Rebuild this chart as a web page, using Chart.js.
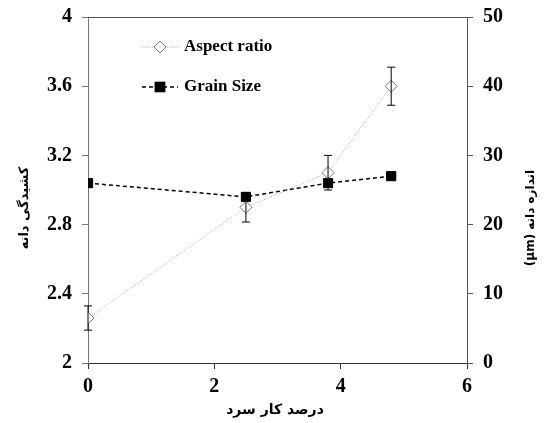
<!DOCTYPE html>
<html>
<head>
<meta charset="utf-8">
<script src="https://cdn.jsdelivr.net/npm/chart.js@4"></script>
<style>
  html, body { margin: 0; padding: 0; background: #fff; }
  #wrap { width: 544px; height: 423px; }
</style>
</head>
<body>
<div id="wrap"><canvas id="grafico" width="544" height="423"></canvas></div>
<script>
// datos
const coldWork = [0, 2.5, 3.8, 4.8];
const aspectRatio = [2.26, 2.90, 3.10, 3.60];
const aspectErr = [0.07, 0.085, 0.10, 0.11];
const grainSize = [26.0, 24.0, 26.0, 27.0];
const grainErr = [0, 0, 0, 0.4];

const xTicks = [0, 2, 4, 6];
const yLeftTicks = [2, 2.4, 2.8, 3.2, 3.6, 4];
const yRightTicks = [0, 10, 20, 30, 40, 50];

const xTitle = 'درصد کار سرد';
const yLeftTitle = 'کشیدگی دانه';
const yRightTitle = 'اندازه دانه (µm)';

const serif = '"Liberation Serif", "Times New Roman", serif';
const arabic = '"DejaVu Sans", sans-serif';

const tickFont = { family: serif, size: 20, weight: 'bold' };

// barras de error
const errorBars = {
  id: 'errorBars',
  afterDatasetsDraw(chart) {
    const ctx = chart.ctx;
    const sx = chart.scales.x;
    const sets = [
      { err: aspectErr, vals: aspectRatio, scale: chart.scales.y },
      { err: grainErr, vals: grainSize, scale: chart.scales.y2 }
    ];
    ctx.save();
    ctx.strokeStyle = '#000';
    ctx.lineWidth = 1;
    sets.forEach(s => {
      s.vals.forEach((v, i) => {
        if (!s.err[i]) return;
        const x = sx.getPixelForValue(coldWork[i]);
        const top = s.scale.getPixelForValue(v + s.err[i]);
        const bot = s.scale.getPixelForValue(v - s.err[i]);
        ctx.beginPath();
        ctx.moveTo(x, top); ctx.lineTo(x, bot);
        ctx.moveTo(x - 4, top); ctx.lineTo(x + 4, top);
        ctx.moveTo(x - 4, bot); ctx.lineTo(x + 4, bot);
        ctx.stroke();
      });
    });
    ctx.restore();
  }
};

// marco, leyenda y titulos
const extras = {
  id: 'extras',
  afterDraw(chart) {
    const ctx = chart.ctx;
    const a = chart.chartArea;
    ctx.save();
    ctx.strokeStyle = '#555';
    ctx.lineWidth = 1;
    ctx.beginPath();
    ctx.moveTo(a.left, a.top + 0.5);
    ctx.lineTo(a.right, a.top + 0.5);
    ctx.stroke();

    // leyenda
    const rows = [
      { y: 47, label: 'Aspect ratio', dash: [1, 1.5], color: '#999', ds: 0 },
      { y: 87, label: 'Grain Size', dash: [4, 3], color: '#000', ds: 1 }
    ];
    rows.forEach(r => {
      ctx.setLineDash(r.dash);
      ctx.strokeStyle = r.color;
      ctx.lineWidth = r.ds ? 1.5 : 1;
      ctx.beginPath();
      ctx.moveTo(142, r.y); ctx.lineTo(178, r.y);
      ctx.stroke();
      ctx.setLineDash([]);
      const d = chart.data.datasets[r.ds];
      Chart.helpers.drawPoint(ctx, {
        pointStyle: d.pointStyle, radius: d.pointRadius,
        borderWidth: d.pointBorderWidth, rotation: 0
      }, 160, r.y);
      ctx.fillStyle = d.pointBackgroundColor;
      ctx.strokeStyle = d.pointBorderColor;
      ctx.lineWidth = d.pointBorderWidth;
      ctx.fill();
      ctx.stroke();
      ctx.fillStyle = '#000';
      ctx.font = 'bold 17px ' + serif;
      ctx.textAlign = 'left';
      ctx.textBaseline = 'middle';
      ctx.fillText(r.label, 184, r.y);
    });

    // titulos de ejes (texto persa, rtl)
    ctx.fillStyle = '#000';
    ctx.direction = 'rtl';
    ctx.font = 'bold 14px ' + arabic;
    ctx.textAlign = 'center';
    ctx.textBaseline = 'middle';
    ctx.fillText(xTitle, 275, 410);

    ctx.font = 'bold 13px ' + arabic;
    ctx.save();
    ctx.translate(25, 208);
    ctx.rotate(-Math.PI / 2);
    ctx.fillText(yLeftTitle, 0, 0);
    ctx.restore();

    ctx.font = 'bold 12px ' + arabic;
    ctx.save();
    ctx.translate(531, 218);
    ctx.rotate(-Math.PI / 2);
    ctx.fillText(yRightTitle, 0, 0);
    ctx.restore();
    ctx.restore();
  }
};

const sinPadV = s => { s.paddingTop = 0; s.paddingBottom = 0; };

const ctx = document.getElementById('grafico');

new Chart(ctx, {
  type: 'line',
  data: {
    datasets: [{
      label: 'Aspect ratio',
      data: coldWork.map((x, i) => ({ x: x, y: aspectRatio[i] })),
      yAxisID: 'y',
      borderColor: '#aaa',
      borderWidth: 1,
      borderDash: [1, 1.5],
      pointStyle: 'rectRot',
      pointRadius: 6,
      pointBorderWidth: 1,
      pointBackgroundColor: '#fff',
      pointBorderColor: '#777',
      tension: 0
    }, {
      label: 'Grain Size',
      data: coldWork.map((x, i) => ({ x: x, y: grainSize[i] })),
      yAxisID: 'y2',
      borderColor: '#000',
      borderWidth: 1.5,
      borderDash: [4, 3],
      pointStyle: 'rect',
      pointRadius: 6.5,
      pointBorderWidth: 1,
      pointBackgroundColor: '#000',
      pointBorderColor: '#000',
      tension: 0
    }]
  },
  options: {
    responsive: false,
    animation: false,
    layout: { padding: { top: 17, left: 0, right: 0, bottom: 0 } },
    plugins: {
      legend: { display: false },
      tooltip: { enabled: false }
    },
    scales: {
      x: {
        type: 'linear',
        min: 0, max: 6,
        afterBuildTicks: s => { s.ticks = xTicks.map(v => ({ value: v })); },
        afterFit: s => { s.height = 60; s.paddingLeft = 0; s.paddingRight = 0; },
        grid: { drawOnChartArea: false, drawTicks: true, tickLength: 6, color: '#333' },
        border: { display: true, color: '#333', width: 1 },
        ticks: { font: tickFont, color: '#000', padding: 6, maxRotation: 0 }
      },
      y: {
        position: 'left',
        min: 2, max: 4,
        afterBuildTicks: s => { s.ticks = yLeftTicks.map(v => ({ value: v })); },
        afterFit: s => { s.width = 88; sinPadV(s); },
        grid: { drawOnChartArea: false, drawTicks: true, tickLength: 6, color: '#777' },
        border: { display: true, color: '#777', width: 1 },
        ticks: { font: tickFont, color: '#000', padding: 10, callback: v => String(v) }
      },
      y2: {
        position: 'right',
        min: 0, max: 50,
        afterBuildTicks: s => { s.ticks = yRightTicks.map(v => ({ value: v })); },
        afterFit: s => { s.width = 77; sinPadV(s); },
        grid: { drawOnChartArea: false, drawTicks: true, tickLength: 6, color: '#555' },
        border: { display: true, color: '#555', width: 1 },
        ticks: { font: tickFont, color: '#000', padding: 10, callback: v => String(v) }
      }
    }
  },
  plugins: [errorBars, extras]
});
</script>
</body>
</html>
